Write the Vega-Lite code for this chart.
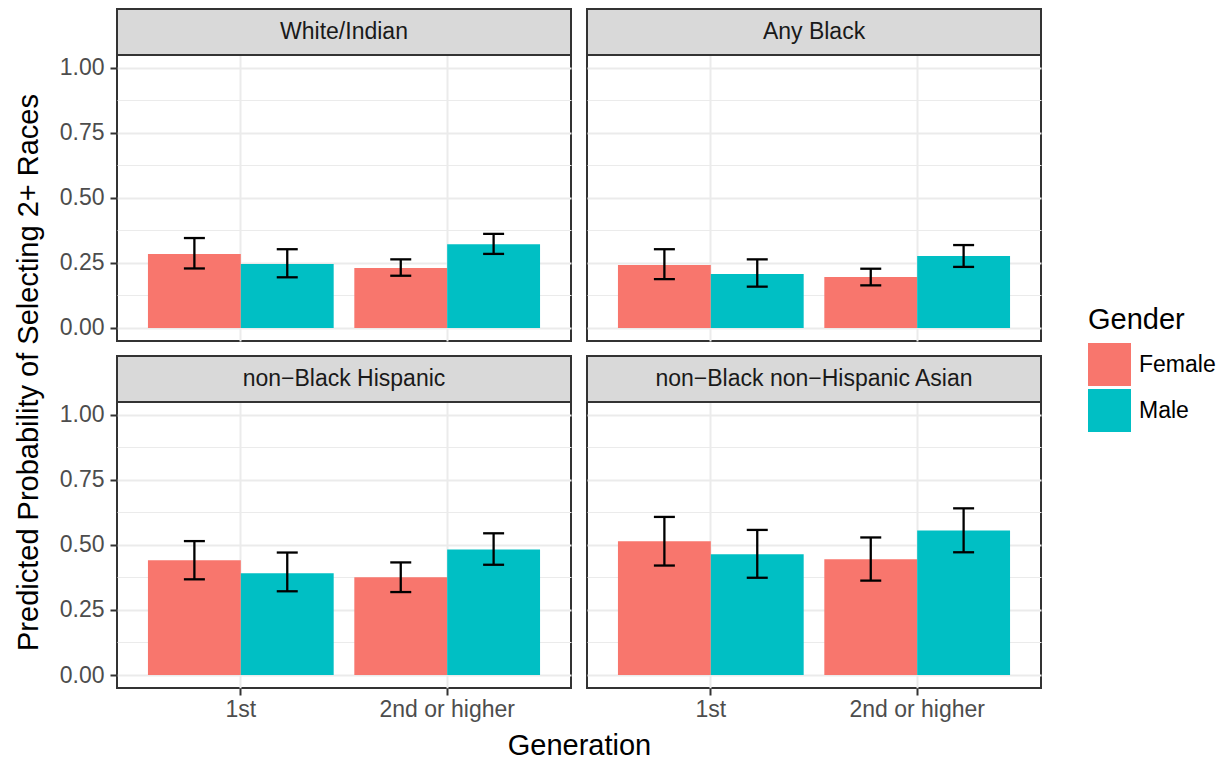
{
  "$schema": "https://vega.github.io/schema/vega-lite/v6.json",
  "background": "white",
  "padding": {"left": 13, "top": 7, "right": 5, "bottom": 5},
  "config": {
    "font": "Liberation Sans",
    "axis": {"labelFont": "Liberation Sans", "titleFont": "Liberation Sans"},
    "legend": {"labelFont": "Liberation Sans", "titleFont": "Liberation Sans"}
  },
  "datasets": {
    "main": [
      {"Group": "White/Indian", "Generation": "1st", "Gender": "Female", "p": 0.285, "lo": 0.229, "hi": 0.346},
      {"Group": "White/Indian", "Generation": "1st", "Gender": "Male", "p": 0.246, "lo": 0.195, "hi": 0.303},
      {"Group": "White/Indian", "Generation": "2nd or higher", "Gender": "Female", "p": 0.231, "lo": 0.201, "hi": 0.264},
      {"Group": "White/Indian", "Generation": "2nd or higher", "Gender": "Male", "p": 0.322, "lo": 0.285, "hi": 0.362},
      {"Group": "Any Black", "Generation": "1st", "Gender": "Female", "p": 0.242, "lo": 0.188, "hi": 0.303},
      {"Group": "Any Black", "Generation": "1st", "Gender": "Male", "p": 0.208, "lo": 0.159, "hi": 0.264},
      {"Group": "Any Black", "Generation": "2nd or higher", "Gender": "Female", "p": 0.196, "lo": 0.164, "hi": 0.228},
      {"Group": "Any Black", "Generation": "2nd or higher", "Gender": "Male", "p": 0.277, "lo": 0.235, "hi": 0.319},
      {"Group": "non−Black Hispanic", "Generation": "1st", "Gender": "Female", "p": 0.441, "lo": 0.368, "hi": 0.515},
      {"Group": "non−Black Hispanic", "Generation": "1st", "Gender": "Male", "p": 0.391, "lo": 0.322, "hi": 0.471},
      {"Group": "non−Black Hispanic", "Generation": "2nd or higher", "Gender": "Female", "p": 0.376, "lo": 0.319, "hi": 0.433},
      {"Group": "non−Black Hispanic", "Generation": "2nd or higher", "Gender": "Male", "p": 0.483, "lo": 0.424, "hi": 0.545},
      {"Group": "non−Black non−Hispanic Asian", "Generation": "1st", "Gender": "Female", "p": 0.514, "lo": 0.421, "hi": 0.608},
      {"Group": "non−Black non−Hispanic Asian", "Generation": "1st", "Gender": "Male", "p": 0.464, "lo": 0.374, "hi": 0.558},
      {"Group": "non−Black non−Hispanic Asian", "Generation": "2nd or higher", "Gender": "Female", "p": 0.445, "lo": 0.363, "hi": 0.529},
      {"Group": "non−Black non−Hispanic Asian", "Generation": "2nd or higher", "Gender": "Male", "p": 0.556, "lo": 0.472, "hi": 0.641}
    ]
  },
  "bounds": "flush",
  "columns": 2,
  "spacing": {"row": 15, "column": 16},
  "concat": [
    {
      "width": 454, "height": 332,
      "view": {"stroke": "#333333", "strokeWidth": 2},
      "data": {"name": "main"},
      "transform": [{"filter": "datum.Group === 'White/Indian'"}],
      "layer": [
        {"mark": {"type": "bar"},
          "encoding": {
            "x": {"field": "Generation", "type": "nominal", "sort": ["1st", "2nd or higher"], "scale": {"paddingInner": 0.1, "paddingOuter": 0.15},
              "axis": {"grid": true, "gridColor": "#ebebeb", "gridWidth": 2, "bandPosition": 0.5, "labels": false, "ticks": false, "domain": false, "title": null}},
            "xOffset": {"field": "Gender", "type": "nominal", "sort": ["Female", "Male"], "scale": {"paddingInner": 0, "paddingOuter": 0}},
            "y": {"field": "p", "type": "quantitative", "scale": {"domain": [-0.05, 1.22692], "nice": false, "zero": false},
              "axis": {"values": [0, 0.125, 0.25, 0.375, 0.5, 0.625, 0.75, 0.875, 1], "format": ".2f",
                "labelExpr": "(datum.value*4)%1===0 ? datum.label : ''",
                "grid": true, "gridColor": "#ebebeb",
                "gridWidth": {"condition": {"test": "(datum.value*4)%1===0", "value": 2}, "value": 1},
                "tickColor": "#333333", "tickWidth": 2, "tickSize": 7,
                "tickOpacity": {"condition": {"test": "(datum.value*4)%1===0", "value": 1}, "value": 0},
                "domain": false, "labelFontSize": 23, "labelColor": "#4d4d4d", "labelPadding": 6,
                "title": "Predicted Probability of Selecting 2+ Races", "titleFontSize": 29, "titleFontWeight": "normal", "titleColor": "black",
                "titleX": -80, "titleY": 363, "titleAngle": -90, "titleBaseline": "alphabetic", "titleAlign": "center"}},
            "color": {"field": "Gender", "type": "nominal", "scale": {"domain": ["Female", "Male"], "range": ["#F8766D", "#00BFC4"]},
              "legend": {"title": "Gender", "orient": "none", "legendX": 971, "legendY": 297, "titleFontSize": 29, "titleFontWeight": "normal", "titleColor": "black",
                "labelFontSize": 23, "labelColor": "black", "symbolType": "square", "symbolSize": 1849, "symbolStrokeWidth": 0, "symbolOpacity": 1,
                "rowPadding": 3, "labelOffset": 8, "titlePadding": 8, "padding": 0}}
          }},
        {"mark": {"type": "rule", "color": "black", "strokeWidth": 2.3},
          "encoding": {"x": {"field": "Generation", "type": "nominal", "sort": ["1st", "2nd or higher"]}, "xOffset": {"field": "Gender", "type": "nominal", "sort": ["Female", "Male"]},
            "y": {"field": "lo", "type": "quantitative"}, "y2": {"field": "hi"}}},
        {"mark": {"type": "tick", "color": "black", "thickness": 2.3, "size": 21, "opacity": 1},
          "encoding": {"x": {"field": "Generation", "type": "nominal", "sort": ["1st", "2nd or higher"]}, "xOffset": {"field": "Gender", "type": "nominal", "sort": ["Female", "Male"]},
            "y": {"field": "lo", "type": "quantitative"}}},
        {"mark": {"type": "tick", "color": "black", "thickness": 2.3, "size": 21, "opacity": 1},
          "encoding": {"x": {"field": "Generation", "type": "nominal", "sort": ["1st", "2nd or higher"]}, "xOffset": {"field": "Gender", "type": "nominal", "sort": ["Female", "Male"]},
            "y": {"field": "hi", "type": "quantitative"}}},
        {"transform": [{"aggregate": [], "groupby": ["Group"]}],
          "mark": {"type": "rect", "fill": "#d9d9d9", "stroke": "#333333", "strokeWidth": 2},
          "encoding": {"y": {"datum": 1.22692, "type": "quantitative"}, "y2": {"datum": 1.05}}},
        {"transform": [{"aggregate": [], "groupby": ["Group"]}],
          "mark": {"type": "text", "fontSize": 23, "color": "#1a1a1a"},
          "encoding": {"y": {"datum": 1.13846, "type": "quantitative"}, "text": {"field": "Group"}}}
      ]
    },
    {
      "width": 454, "height": 332,
      "view": {"stroke": "#333333", "strokeWidth": 2},
      "data": {"name": "main"},
      "transform": [{"filter": "datum.Group === 'Any Black'"}],
      "layer": [
        {"mark": {"type": "bar"},
          "encoding": {
            "x": {"field": "Generation", "type": "nominal", "sort": ["1st", "2nd or higher"], "scale": {"paddingInner": 0.1, "paddingOuter": 0.15},
              "axis": {"grid": true, "gridColor": "#ebebeb", "gridWidth": 2, "bandPosition": 0.5, "labels": false, "ticks": false, "domain": false, "title": null}},
            "xOffset": {"field": "Gender", "type": "nominal", "sort": ["Female", "Male"], "scale": {"paddingInner": 0, "paddingOuter": 0}},
            "y": {"field": "p", "type": "quantitative", "scale": {"domain": [-0.05, 1.22692], "nice": false, "zero": false},
              "axis": {"values": [0, 0.125, 0.25, 0.375, 0.5, 0.625, 0.75, 0.875, 1],
                "grid": true, "gridColor": "#ebebeb",
                "gridWidth": {"condition": {"test": "(datum.value*4)%1===0", "value": 2}, "value": 1},
                "labels": false, "ticks": false, "domain": false, "title": null}},
            "color": {"field": "Gender", "type": "nominal", "scale": {"domain": ["Female", "Male"], "range": ["#F8766D", "#00BFC4"]}}
          }},
        {"mark": {"type": "rule", "color": "black", "strokeWidth": 2.3},
          "encoding": {"x": {"field": "Generation", "type": "nominal", "sort": ["1st", "2nd or higher"]}, "xOffset": {"field": "Gender", "type": "nominal", "sort": ["Female", "Male"]},
            "y": {"field": "lo", "type": "quantitative"}, "y2": {"field": "hi"}}},
        {"mark": {"type": "tick", "color": "black", "thickness": 2.3, "size": 21, "opacity": 1},
          "encoding": {"x": {"field": "Generation", "type": "nominal", "sort": ["1st", "2nd or higher"]}, "xOffset": {"field": "Gender", "type": "nominal", "sort": ["Female", "Male"]},
            "y": {"field": "lo", "type": "quantitative"}}},
        {"mark": {"type": "tick", "color": "black", "thickness": 2.3, "size": 21, "opacity": 1},
          "encoding": {"x": {"field": "Generation", "type": "nominal", "sort": ["1st", "2nd or higher"]}, "xOffset": {"field": "Gender", "type": "nominal", "sort": ["Female", "Male"]},
            "y": {"field": "hi", "type": "quantitative"}}},
        {"transform": [{"aggregate": [], "groupby": ["Group"]}],
          "mark": {"type": "rect", "fill": "#d9d9d9", "stroke": "#333333", "strokeWidth": 2},
          "encoding": {"y": {"datum": 1.22692, "type": "quantitative"}, "y2": {"datum": 1.05}}},
        {"transform": [{"aggregate": [], "groupby": ["Group"]}],
          "mark": {"type": "text", "fontSize": 23, "color": "#1a1a1a"},
          "encoding": {"y": {"datum": 1.13846, "type": "quantitative"}, "text": {"field": "Group"}}}
      ]
    },
    {
      "width": 454, "height": 332,
      "view": {"stroke": "#333333", "strokeWidth": 2},
      "data": {"name": "main"},
      "transform": [{"filter": "datum.Group === 'non−Black Hispanic'"}],
      "layer": [
        {"mark": {"type": "bar"},
          "encoding": {
            "x": {"field": "Generation", "type": "nominal", "sort": ["1st", "2nd or higher"], "scale": {"paddingInner": 0.1, "paddingOuter": 0.15},
              "axis": {"grid": true, "gridColor": "#ebebeb", "gridWidth": 2, "bandPosition": 0.5, "labelAngle": 0, "labelFontSize": 23, "labelColor": "#4d4d4d", "labelPadding": 3,
                "ticks": true, "tickColor": "#333333", "tickWidth": 2, "tickSize": 7, "domain": false,
                "title": "Generation", "titleFontSize": 29, "titleFontWeight": "normal", "titleColor": "black", "titleX": 462, "titleY": 66, "titleBaseline": "alphabetic", "titleAlign": "center"}},
            "xOffset": {"field": "Gender", "type": "nominal", "sort": ["Female", "Male"], "scale": {"paddingInner": 0, "paddingOuter": 0}},
            "y": {"field": "p", "type": "quantitative", "scale": {"domain": [-0.05, 1.22692], "nice": false, "zero": false},
              "axis": {"values": [0, 0.125, 0.25, 0.375, 0.5, 0.625, 0.75, 0.875, 1], "format": ".2f",
                "labelExpr": "(datum.value*4)%1===0 ? datum.label : ''",
                "grid": true, "gridColor": "#ebebeb",
                "gridWidth": {"condition": {"test": "(datum.value*4)%1===0", "value": 2}, "value": 1},
                "tickColor": "#333333", "tickWidth": 2, "tickSize": 7,
                "tickOpacity": {"condition": {"test": "(datum.value*4)%1===0", "value": 1}, "value": 0},
                "domain": false, "labelFontSize": 23, "labelColor": "#4d4d4d", "labelPadding": 6, "title": null}},
            "color": {"field": "Gender", "type": "nominal", "scale": {"domain": ["Female", "Male"], "range": ["#F8766D", "#00BFC4"]}}
          }},
        {"mark": {"type": "rule", "color": "black", "strokeWidth": 2.3},
          "encoding": {"x": {"field": "Generation", "type": "nominal", "sort": ["1st", "2nd or higher"]}, "xOffset": {"field": "Gender", "type": "nominal", "sort": ["Female", "Male"]},
            "y": {"field": "lo", "type": "quantitative"}, "y2": {"field": "hi"}}},
        {"mark": {"type": "tick", "color": "black", "thickness": 2.3, "size": 21, "opacity": 1},
          "encoding": {"x": {"field": "Generation", "type": "nominal", "sort": ["1st", "2nd or higher"]}, "xOffset": {"field": "Gender", "type": "nominal", "sort": ["Female", "Male"]},
            "y": {"field": "lo", "type": "quantitative"}}},
        {"mark": {"type": "tick", "color": "black", "thickness": 2.3, "size": 21, "opacity": 1},
          "encoding": {"x": {"field": "Generation", "type": "nominal", "sort": ["1st", "2nd or higher"]}, "xOffset": {"field": "Gender", "type": "nominal", "sort": ["Female", "Male"]},
            "y": {"field": "hi", "type": "quantitative"}}},
        {"transform": [{"aggregate": [], "groupby": ["Group"]}],
          "mark": {"type": "rect", "fill": "#d9d9d9", "stroke": "#333333", "strokeWidth": 2},
          "encoding": {"y": {"datum": 1.22692, "type": "quantitative"}, "y2": {"datum": 1.05}}},
        {"transform": [{"aggregate": [], "groupby": ["Group"]}],
          "mark": {"type": "text", "fontSize": 23, "color": "#1a1a1a"},
          "encoding": {"y": {"datum": 1.13846, "type": "quantitative"}, "text": {"field": "Group"}}}
      ]
    },
    {
      "width": 454, "height": 332,
      "view": {"stroke": "#333333", "strokeWidth": 2},
      "data": {"name": "main"},
      "transform": [{"filter": "datum.Group === 'non−Black non−Hispanic Asian'"}],
      "layer": [
        {"mark": {"type": "bar"},
          "encoding": {
            "x": {"field": "Generation", "type": "nominal", "sort": ["1st", "2nd or higher"], "scale": {"paddingInner": 0.1, "paddingOuter": 0.15},
              "axis": {"grid": true, "gridColor": "#ebebeb", "gridWidth": 2, "bandPosition": 0.5, "labelAngle": 0, "labelFontSize": 23, "labelColor": "#4d4d4d", "labelPadding": 3,
                "ticks": true, "tickColor": "#333333", "tickWidth": 2, "tickSize": 7, "domain": false, "title": null}},
            "xOffset": {"field": "Gender", "type": "nominal", "sort": ["Female", "Male"], "scale": {"paddingInner": 0, "paddingOuter": 0}},
            "y": {"field": "p", "type": "quantitative", "scale": {"domain": [-0.05, 1.22692], "nice": false, "zero": false},
              "axis": {"values": [0, 0.125, 0.25, 0.375, 0.5, 0.625, 0.75, 0.875, 1],
                "grid": true, "gridColor": "#ebebeb",
                "gridWidth": {"condition": {"test": "(datum.value*4)%1===0", "value": 2}, "value": 1},
                "labels": false, "ticks": false, "domain": false, "title": null}},
            "color": {"field": "Gender", "type": "nominal", "scale": {"domain": ["Female", "Male"], "range": ["#F8766D", "#00BFC4"]}}
          }},
        {"mark": {"type": "rule", "color": "black", "strokeWidth": 2.3},
          "encoding": {"x": {"field": "Generation", "type": "nominal", "sort": ["1st", "2nd or higher"]}, "xOffset": {"field": "Gender", "type": "nominal", "sort": ["Female", "Male"]},
            "y": {"field": "lo", "type": "quantitative"}, "y2": {"field": "hi"}}},
        {"mark": {"type": "tick", "color": "black", "thickness": 2.3, "size": 21, "opacity": 1},
          "encoding": {"x": {"field": "Generation", "type": "nominal", "sort": ["1st", "2nd or higher"]}, "xOffset": {"field": "Gender", "type": "nominal", "sort": ["Female", "Male"]},
            "y": {"field": "lo", "type": "quantitative"}}},
        {"mark": {"type": "tick", "color": "black", "thickness": 2.3, "size": 21, "opacity": 1},
          "encoding": {"x": {"field": "Generation", "type": "nominal", "sort": ["1st", "2nd or higher"]}, "xOffset": {"field": "Gender", "type": "nominal", "sort": ["Female", "Male"]},
            "y": {"field": "hi", "type": "quantitative"}}},
        {"transform": [{"aggregate": [], "groupby": ["Group"]}],
          "mark": {"type": "rect", "fill": "#d9d9d9", "stroke": "#333333", "strokeWidth": 2},
          "encoding": {"y": {"datum": 1.22692, "type": "quantitative"}, "y2": {"datum": 1.05}}},
        {"transform": [{"aggregate": [], "groupby": ["Group"]}],
          "mark": {"type": "text", "fontSize": 23, "color": "#1a1a1a"},
          "encoding": {"y": {"datum": 1.13846, "type": "quantitative"}, "text": {"field": "Group"}}}
      ]
    }
  ]
}
